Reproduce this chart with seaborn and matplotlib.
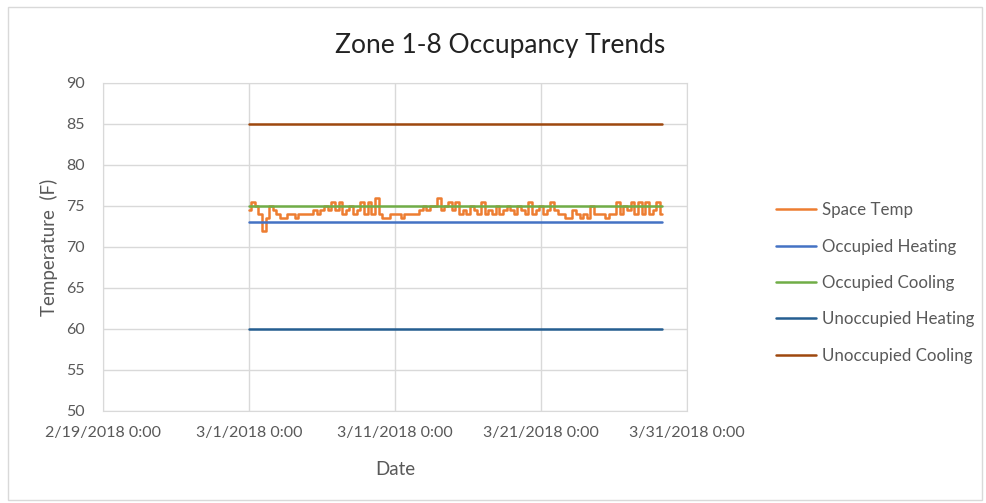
import pandas as pd
import matplotlib.pyplot as plt
import matplotlib.dates as mdates
from matplotlib.patches import Rectangle
import seaborn as sns

# Space temperature readings, one every 6 hours from 3/1/2018 0:00
space_temp = [
    74.5, 75.5, 75, 74,
    72, 73.5, 75, 74.5,
    74, 73.5, 73.5, 74,
    74, 73.5, 74, 74,
    74, 74, 74.5, 74,
    74.5, 75, 74.5, 75.5,
    74.5, 75.5, 74, 74.5,
    75, 74, 74.5, 75.5,
    74, 75.5, 74, 76,
    74, 73.5, 73.5, 74,
    74, 74, 73.5, 74,
    74, 74, 74, 74.5,
    75, 74.5, 75, 75,
    76, 74.5, 75, 75.5,
    74.5, 75.5, 74, 74.5,
    74, 75, 74.5, 74,
    75.5, 74, 74.5, 74,
    75, 74, 74.5, 75,
    74.5, 74, 75, 74.5,
    74, 75.5, 74, 74.5,
    75, 74, 74.5, 75.5,
    74.5, 74, 74, 73.5,
    73.5, 74.5, 74, 73.5,
    74, 73.5, 75, 74,
    74, 74, 73.5, 74,
    74, 75.5, 74, 75,
    74.5, 75.5, 74, 75.5,
    74, 75.5, 74, 74.5,
    75.5, 74,
]
occupied_heating = 73
occupied_cooling = 75
unoccupied_heating = 60
unoccupied_cooling = 85

series_names = ["Space Temp", "Occupied Heating", "Occupied Cooling",
                "Unoccupied Heating", "Unoccupied Cooling"]
colors = ["#ED7D31", "#4472C4", "#70AD47", "#255E91", "#9E480E"]
x_ticks = ["2018-02-19", "2018-03-01", "2018-03-11", "2018-03-21", "2018-03-31"]
y_ticks = [50, 55, 60, 65, 70, 75, 80, 85, 90]

dates = pd.date_range("2018-03-01", periods=len(space_temp), freq="6h")
wide = pd.DataFrame({
    "Date": dates,
    "Space Temp": space_temp,
    "Occupied Heating": occupied_heating,
    "Occupied Cooling": occupied_cooling,
    "Unoccupied Heating": unoccupied_heating,
    "Unoccupied Cooling": unoccupied_cooling,
})
df = wide.melt(id_vars="Date", var_name="Series", value_name="Temp")

sns.set_style("white")
plt.rcParams["font.family"] = ["Lato", "DejaVu Sans"]

fig = plt.figure(figsize=(9.86, 5.03), dpi=100)
ax = fig.add_axes([0.1045, 0.183, 0.5925, 0.652])

sns.lineplot(data=df, x="Date", y="Temp", hue="Series", hue_order=series_names,
             palette=colors, linewidth=1.8, drawstyle="steps-mid", ax=ax)

ax.set_xlim(pd.Timestamp(x_ticks[0]), pd.Timestamp(x_ticks[-1]))
ax.set_ylim(50, 90)
ax.set_xticks([pd.Timestamp(t) for t in x_ticks])
ax.xaxis.set_major_formatter(mdates.DateFormatter("%-m/%-d/%Y %-H:%M"))
ax.set_yticks(y_ticks)
ax.grid(True, color="#d9d9d9", linewidth=1)
ax.set_axisbelow(True)
for s in ax.spines.values():
    s.set_color("#d9d9d9")
ax.tick_params(length=0, labelsize=11.5, labelcolor="#595959")
ax.tick_params(axis="x", pad=11)
ax.tick_params(axis="y", pad=13)

ax.set_xlabel("Date", fontsize=13.5, color="#595959", labelpad=15)
ax.set_ylabel("Temperature  (F)", fontsize=13.5, color="#595959", labelpad=6)
fig.suptitle("Zone 1-8 Occupancy Trends", fontsize=19, color="#222222",
             x=0.507, y=0.935)

ax.legend(loc="center left", bbox_to_anchor=(1.125, 0.39), frameon=False,
          fontsize=12.2, labelspacing=1.2, handlelength=2.4, handletextpad=0.35,
          labelcolor="#595959")

fig.patches.append(Rectangle((0.008, 0.006), 0.988, 0.981, transform=fig.transFigure,
                             fill=False, edgecolor="#d9d9d9", linewidth=1))

fig.savefig("out.png", dpi=100)
